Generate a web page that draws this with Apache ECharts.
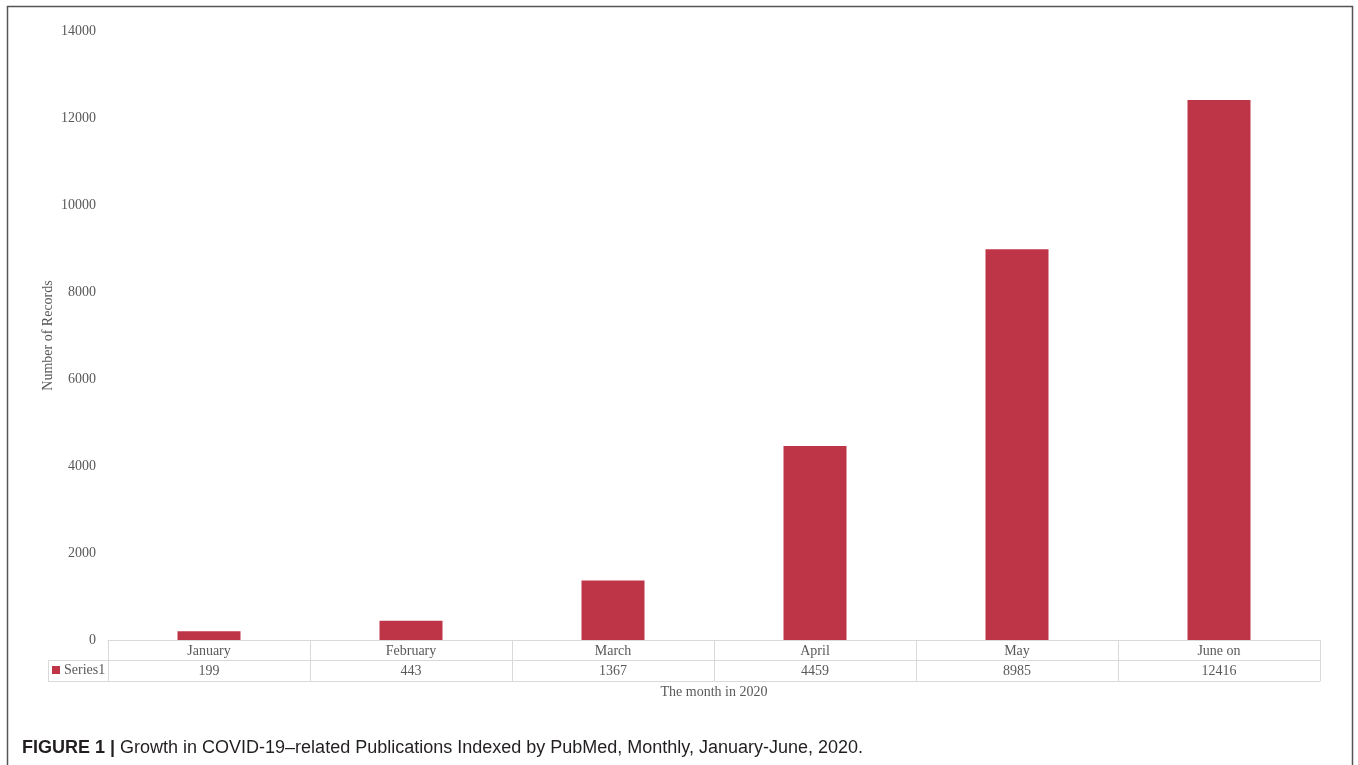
<!DOCTYPE html>
<html>
<head>
<meta charset="utf-8">
<script src="https://cdn.jsdelivr.net/npm/echarts@6/dist/echarts.min.js"></script>
<style>
html,body{margin:0;padding:0;background:#fff;}
#c{width:1358px;height:765px;}
</style>
</head>
<body>
<div id="c"></div>
<script>
const categories = ['January', 'February', 'March', 'April', 'May', 'June on'];
const series1 = [199, 443, 1367, 4459, 8985, 12416];
const yTicks = [0, 2000, 4000, 6000, 8000, 10000, 12000, 14000];
const seriesName = 'Series1';
const xTitle = 'The month in 2020';
const yTitle = 'Number of Records';

const chart = echarts.init(document.getElementById('c'), null, {renderer: 'canvas'});
const serif = '"Liberation Serif", "Times New Roman", serif';
const txt = '#595959';
const tableLine = '#d9d9d9';

chart.setOption({
  animation: false,
  backgroundColor: '#fff',
  title: {
    left: 22, top: 739, padding: 0,
    text: '{b|FIGURE 1 |} Growth in COVID-19\u2013related Publications Indexed by PubMed, Monthly, January-June, 2020.',
    textStyle: {
      fontFamily: '"Liberation Sans", Arial, sans-serif', fontSize: 18, fontWeight: 'normal', color: '#231f20',
      rich: {b: {fontFamily: '"Liberation Sans", Arial, sans-serif', fontSize: 18, fontWeight: 'bold', color: '#231f20'}}
    }
  },
  legend: {
    left: 52, top: 663, itemWidth: 8, itemHeight: 8, itemGap: 0,
    icon: 'rect', padding: 0,
    textStyle: {fontFamily: serif, fontSize: 14, color: txt, padding: [0, 0, 0, -1]},
    data: [seriesName]
  },
  grid: {left: 108, right: 38, top: 31, bottom: 125, containLabel: false},
  xAxis: [
    {
      type: 'category', data: categories, position: 'bottom',
      axisLine: {show: true, lineStyle: {color: tableLine, width: 1}},
      axisTick: {show: true, length: 41, lineStyle: {color: tableLine}},
      axisLabel: {show: true, margin: 4, fontFamily: serif, fontSize: 14, color: txt}
    },
    {
      type: 'category', data: categories, position: 'bottom', offset: 20,
      axisLine: {show: true, lineStyle: {color: tableLine, width: 1}},
      axisTick: {show: false},
      axisLabel: {show: true, margin: 4, fontFamily: serif, fontSize: 14, color: txt,
        formatter: function (v, i) { return String(series1[i]); }}
    },
    {
      type: 'category', data: categories, position: 'bottom', offset: 41,
      axisLine: {show: true, lineStyle: {color: tableLine, width: 1}},
      axisTick: {show: false},
      axisLabel: {show: false},
      name: xTitle, nameLocation: 'middle', nameGap: 4, nameMoveOverlap: false,
      nameTextStyle: {fontFamily: serif, fontSize: 14, color: txt}
    }
  ],
  yAxis: {
    type: 'value', min: yTicks[0], max: yTicks[yTicks.length - 1], interval: 2000,
    axisLine: {show: false}, axisTick: {show: false}, splitLine: {show: false},
    axisLabel: {margin: 12, fontFamily: serif, fontSize: 14, color: txt,
      formatter: function (v) { return String(v); }},
    name: yTitle, nameLocation: 'middle', nameGap: 53, nameRotate: 90, nameMoveOverlap: false,
    nameTextStyle: {fontFamily: serif, fontSize: 14, color: txt}
  },
  series: [{
    name: seriesName, type: 'bar', data: series1, xAxisIndex: 0,
    barWidth: 63,
    itemStyle: {color: '#be3548'}
  }],
  graphic: [
    {type: 'rect', shape: {x: 7.5, y: 6.5, width: 1345, height: 800}, style: {fill: 'none', stroke: '#555', lineWidth: 1.5}, silent: true},
    {type: 'line', shape: {x1: 48, y1: 660.5, x2: 108, y2: 660.5}, style: {stroke: tableLine, lineWidth: 1}},
    {type: 'line', shape: {x1: 48, y1: 681.5, x2: 108, y2: 681.5}, style: {stroke: tableLine, lineWidth: 1}},
    {type: 'line', shape: {x1: 48.5, y1: 660, x2: 48.5, y2: 682}, style: {stroke: tableLine, lineWidth: 1}}
  ]
});
</script>
</body>
</html>
